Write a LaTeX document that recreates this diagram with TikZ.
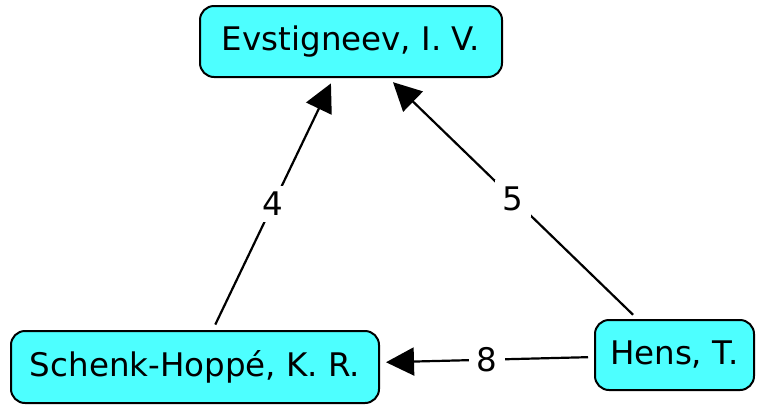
\documentclass[tikz,border=0pt]{standalone}
\usepackage{fontspec}
\setmainfont{DejaVu Sans}
\usetikzlibrary{arrows.meta}
\definecolor{nodecyan}{RGB}{77,255,255}
\begin{document}
\begin{tikzpicture}[x=1pt,y=-1pt,
  concept/.style={draw=black, line width=2pt, fill=nodecyan, rounded corners=14pt, inner sep=0pt, font=\fontsize{32.5}{39}\selectfont},
  link/.style={line width=2.2pt, -{Triangle[length=28pt,width=28pt]}, shorten >=6pt, shorten <=6pt},
  lbl/.style={fill=white, inner xsep=8pt, inner ysep=6pt, font=\fontsize{32.5}{39}\selectfont}]
\useasboundingbox (0,0) rectangle (757,405);
\node[concept, minimum width=302pt, minimum height=71pt] (E) at (351,41.5) {Evstigneev, I. V.};
\node[concept, minimum width=368pt, minimum height=72pt] (S) at (195,367) {Schenk-Hoppé, K. R.};
\node[concept, minimum width=159pt, minimum height=70pt] (H) at (674.5,355) {Hens, T.};
\draw[link] (S) -- node[lbl] (l4) {4} (E);
\draw[link] (H) -- node[lbl] (l5) {5} (E);
\draw[link] (H) -- node[lbl] (l8) {8} (S);
\end{tikzpicture}
\end{document}
